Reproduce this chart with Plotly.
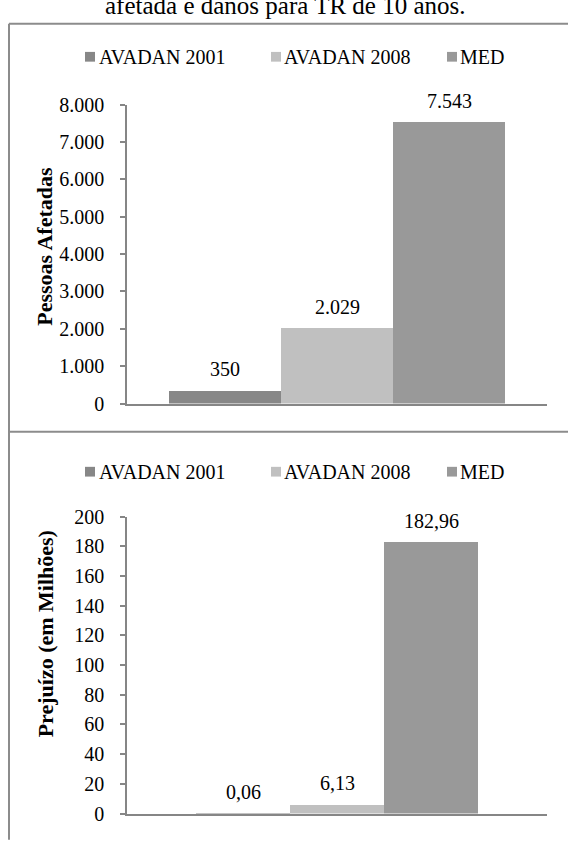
import plotly.graph_objects as go

# --- data -------------------------------------------------------------
series = ["AVADAN 2001", "AVADAN 2008", "MED"]
colors = ["#878787", "#c0c0c0", "#999999"]

pessoas_afetadas = [350, 2029, 7543]
prejuizo_milhoes = [0.06, 6.13, 182.96]

y1_ticks = [0, 1000, 2000, 3000, 4000, 5000, 6000, 7000, 8000]
y2_ticks = [0, 20, 40, 60, 80, 100, 120, 140, 160, 180, 200]

title_text = "afetada e danos para TR de 10 anos."
y1_title = "Pessoas Afetadas"
y2_title = "Prejuízo (em Milhões)"

# --- page geometry helpers (pixels -> paper) --------------------------
W, H = 568, 846
FONT = "Liberation Serif, Times New Roman, serif"
AXIS_COLOR = "#868686"


def px(x):
    return x / W


def py(y):
    return 1 - y / H


def fmt_int(v):
    return f"{v:,.0f}".replace(",", ".")


def fmt_dec(v):
    return f"{v:.2f}".replace(".", ",")


fig = go.Figure()

# bars: one trace per series so each gets its own colour
for name, val, col in zip(series, pessoas_afetadas, colors):
    fig.add_trace(go.Bar(x=[name], y=[val], name=name, marker_color=col,
                         marker_line_width=0, showlegend=False,
                         xaxis="x", yaxis="y"))
for name, val, col in zip(series, prejuizo_milhoes, colors):
    fig.add_trace(go.Bar(x=[name], y=[val], name=name, marker_color=col,
                         marker_line_width=0, showlegend=False,
                         xaxis="x2", yaxis="y2"))

annotations = []
shapes = []

label_font = dict(family=FONT, size=20, color="#000")

# value labels above each bar
for name, val in zip(series, pessoas_afetadas):
    annotations.append(dict(x=name, y=val, xref="x", yref="y", text=fmt_int(val),
                            showarrow=False, xanchor="center", yanchor="bottom",
                            yshift=8, font=label_font))
for name, val in zip(series, prejuizo_milhoes):
    annotations.append(dict(x=name, y=val, xref="x2", yref="y2", text=fmt_dec(val),
                            showarrow=False, xanchor="center", yanchor="bottom",
                            yshift=8, font=label_font))

# rotated axis titles
annotations.append(dict(x=px(45), y=py(242), xref="paper", yref="paper",
                        text=f"<b>{y1_title}</b>", textangle=-90, showarrow=False,
                        xanchor="center", yanchor="middle",
                        font=dict(family=FONT, size=22, color="#000")))
annotations.append(dict(x=px(45), y=py(640), xref="paper", yref="paper",
                        text=f"<b>{y2_title}</b>", textangle=-90, showarrow=False,
                        xanchor="center", yanchor="middle",
                        font=dict(family=FONT, size=22, color="#000")))

# heading line (runs off the top of the page)
annotations.append(dict(x=px(285), y=py(10), xref="paper", yref="paper",
                        text=title_text, showarrow=False,
                        xanchor="center", yanchor="bottom",
                        font=dict(family=FONT, size=25, color="#000")))

# legends drawn as swatch + label rows
legend_sq_x = [85, 271, 447]
legend_txt_x = [97, 282, 458]
for ly in (47, 473):
    for sx, tx, name, col in zip(legend_sq_x, legend_txt_x, series, colors):
        shapes.append(dict(type="rect", xref="paper", yref="paper",
                           x0=px(sx), x1=px(sx + 10), y0=py(ly - 5), y1=py(ly + 5),
                           fillcolor=col, line=dict(width=0)))
        annotations.append(dict(x=px(tx), y=py(ly), xref="paper", yref="paper",
                                text=name, showarrow=False, xanchor="left",
                                yanchor="middle", font=label_font))

# frame lines
frame = dict(color="#8c8c8c", width=2)
shapes.append(dict(type="line", xref="paper", yref="paper",
                   x0=px(9), x1=px(W + 5), y0=py(13), y1=py(13), line=frame))
shapes.append(dict(type="line", xref="paper", yref="paper",
                   x0=px(9), x1=px(9), y0=py(13), y1=py(H + 5), line=frame))
shapes.append(dict(type="line", xref="paper", yref="paper",
                   x0=px(9), x1=px(W + 5), y0=py(432), y1=py(432), line=frame))

x_dom = [px(127), px(547)]
xaxis_common = dict(type="category", showline=True, linecolor=AXIS_COLOR,
                    linewidth=1.5, showticklabels=False, ticks="",
                    showgrid=False, zeroline=False, fixedrange=True)
yaxis_common = dict(showline=True, linecolor=AXIS_COLOR, linewidth=1.5,
                    ticks="outside", ticklen=5, tickcolor=AXIS_COLOR, tickwidth=1.5,
                    showgrid=False, zeroline=False, ticklabelstandoff=12,
                    tickfont=dict(family=FONT, size=20, color="#000"))

fig.update_layout(
    width=W, height=H,
    margin=dict(l=0, r=0, t=0, b=0),
    font=dict(family=FONT, color="#000"),
    paper_bgcolor="white", plot_bgcolor="white",
    barmode="overlay", bargap=0,
    separators=",.",
    showlegend=False,
    xaxis=dict(domain=x_dom, anchor="y", range=[-0.875, 2.875], **xaxis_common),
    yaxis=dict(domain=[py(403), py(96)], anchor="x", range=[0, 8000],
               tickvals=y1_ticks, tickformat=",d", **yaxis_common),
    xaxis2=dict(domain=x_dom, anchor="y2", range=[-1.234, 3.234], **xaxis_common),
    yaxis2=dict(domain=[py(824), py(519)], anchor="x2", range=[0, 200],
                tickvals=y2_ticks, tickformat="d", **yaxis_common),
    annotations=annotations,
    shapes=shapes,
)

fig.write_html("out.html")
